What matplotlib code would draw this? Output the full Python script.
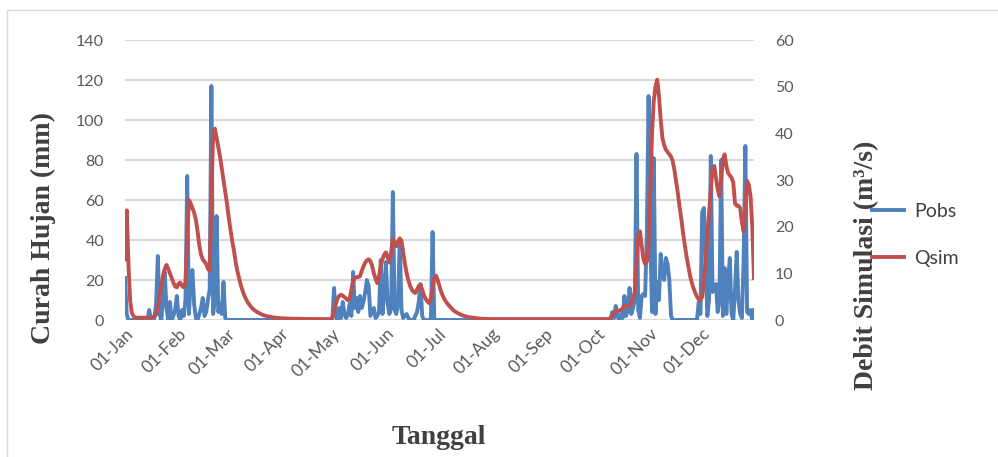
import numpy as np
import matplotlib.pyplot as plt
from matplotlib.patches import Rectangle

# month ticks (day of year)
month_start = [0, 31, 59, 90, 120, 151, 181, 212, 243, 273, 304, 334]
month_labels = ['01-Jan', '01-Feb', '01-Mar', '01-Apr', '01-May', '01-Jun',
                '01-Jul', '01-Aug', '01-Sep', '01-Oct', '01-Nov', '01-Dec']

# observed rainfall (mm), only the rainy days, every other day is 0
rain_day = [0, 1, 14, 17, 18, 19, 20, 22, 23, 24, 26, 28, 29, 30, 31, 33, 34, 35,
            36, 37, 38, 39, 40, 41, 43, 44, 45, 46, 47, 48, 49, 50, 51, 52, 53, 54,
            55, 56, 57, 58,
            120, 121, 122, 124, 125, 126, 127, 128, 129, 130, 131, 132, 133, 134,
            135, 136, 137, 138, 139, 140, 141, 142, 143, 144, 145, 146, 147, 148,
            149, 150, 151, 152, 153, 154, 155, 156, 157, 158, 159, 160, 161, 162,
            163, 164, 168, 169, 170, 171, 172, 178,
            282, 283, 284, 285, 287, 288, 289, 290, 291, 292, 293, 294, 295, 296,
            297, 298, 299, 300, 301, 302, 303, 304, 305, 306, 307, 308, 309, 310,
            311, 312, 313, 314, 315, 316,
            332, 333, 334, 335, 336, 337, 338, 339, 340, 341, 342, 343, 344, 345,
            346, 347, 348, 349, 350, 351, 353, 354, 355, 356, 357, 358, 359, 360,
            361, 362, 364]
rain_mm = [21, 3, 5, 1, 8, 32, 3, 10, 24, 6, 9, 2, 5, 12, 2, 5, 2, 10,
           72, 3, 20, 25, 8, 1, 3, 6, 11, 2, 4, 10, 15, 117, 3, 10, 52, 4,
           8, 3, 19, 1,
           1, 16, 2, 6, 1, 9, 3, 1, 3, 8, 2, 24, 6, 11,
           4, 12, 6, 9, 14, 20, 17, 2, 4, 6, 1, 2, 4, 30,
           3, 15, 29, 8, 3, 6, 64, 5, 3, 8, 40, 5, 1, 2,
           3, 1, 2, 4, 9, 18, 2, 44,
           4, 1, 7, 2, 3, 1, 12, 2, 5, 16, 3, 6, 10, 83,
           5, 1, 12, 13, 12, 44, 112, 40, 4, 81, 3, 19, 10, 33,
           23, 20, 31, 28, 20, 2,
           9, 3, 54, 56, 30, 2, 10, 82, 14, 16, 18, 4, 10, 80,
           2, 26, 3, 20, 31, 3, 15, 34, 10, 3, 1, 30, 87, 4,
           3, 5, 5]

# simulated discharge (m3/s), daily, month by month
q_jan = [13, 23.5, 12, 4, 1.5, 0.8, 0.5, 0.5, 0.5, 0.5, 0.5, 0.5, 0.5, 0.5, 0.5, 0.5,
         0.6, 0.8, 1.2, 2.5, 5, 7.5, 9.5, 11, 11.8, 11, 10, 9, 8, 7.2, 7]
q_feb = [7.8, 8, 7.3, 7, 8, 18, 25.7, 25, 24, 23, 21.5, 19, 16, 14, 13, 12.5,
         12, 11, 10.5, 26, 40, 41, 39, 37, 35, 32.5, 30, 27.5]
q_mar = [25, 22, 19.5, 17, 15, 12.5, 10.5, 9, 7.5, 6.3, 5.3, 4.5, 3.8, 3.3, 2.8, 2.4,
         2.1, 1.8, 1.6, 1.4, 1.2, 1.05, 0.95, 0.85, 0.75, 0.7, 0.6, 0.55, 0.5, 0.45, 0.4]
q_apr = [0.38, 0.36, 0.34, 0.32, 0.3, 0.29, 0.28, 0.27, 0.26, 0.25, 0.25, 0.24, 0.24,
         0.23, 0.23, 0.22, 0.22, 0.22, 0.21, 0.21, 0.21, 0.2, 0.2, 0.2, 0.2, 0.2,
         0.2, 0.2, 0.2, 0.2]
q_may = [0.4, 1.8, 3.4, 4.6, 5.2, 5.4, 5.2, 4.9, 4.6, 4.2, 4.4, 6.5, 8.2, 9.0, 9.2, 9.2,
         9.4, 10.5, 11.5, 12.3, 12.8, 13, 12.6, 11.6, 10, 8.8, 7.9, 9.5, 11.5, 13, 14]
q_jun = [14.5, 13.5, 12.3, 14.5, 17.4, 16.5, 15.8, 16.8, 17.5, 17, 14.5, 12, 10, 8.5,
         7.3, 6.5, 6, 5.8, 6.5, 7.3, 7.5, 6.5, 5.3, 4.5, 4, 3.6, 4.5, 7, 9, 9.5]
q_jul = [8.5, 7.2, 6, 5.1, 4.4, 3.8, 3.3, 2.9, 2.5, 2.1, 1.8, 1.6, 1.4, 1.2, 1.05, 0.9,
         0.8, 0.7, 0.6, 0.55, 0.5, 0.45, 0.4, 0.35, 0.3, 0.28, 0.25, 0.22, 0.2, 0.2, 0.2]
q_aug = [0.2, 0.2, 0.2, 0.2, 0.2, 0.2, 0.2, 0.2, 0.2, 0.2, 0.2, 0.2, 0.2, 0.2, 0.2, 0.2,
         0.2, 0.2, 0.2, 0.2, 0.2, 0.2, 0.2, 0.2, 0.2, 0.2, 0.2, 0.2, 0.2, 0.2, 0.2]
q_sep = [0.2, 0.2, 0.2, 0.2, 0.2, 0.2, 0.2, 0.2, 0.2, 0.2, 0.2, 0.2, 0.2, 0.2, 0.2,
         0.2, 0.2, 0.2, 0.2, 0.2, 0.2, 0.2, 0.2, 0.2, 0.2, 0.2, 0.2, 0.2, 0.2, 0.2]
q_oct = [0.2, 0.2, 0.2, 0.2, 0.2, 0.2, 0.2, 0.2, 0.5, 1, 1.5, 1.8, 2, 2, 2.2, 2.5,
         3, 3, 2.8, 3.2, 3.5, 4.5, 6, 12, 18, 19, 16, 13, 12, 12.5, 16]
q_nov = [28, 40, 47, 50, 51.5, 48, 43, 39, 37.5, 36.5, 36, 35.5, 35, 34, 32, 29.5,
         27, 24, 21.5, 18.5, 16, 13.5, 11.5, 9.5, 8, 6.8, 5.8, 5, 4.4, 4.2]
q_dec = [5, 8, 13, 18, 23, 28, 32.5, 33, 30.5, 28, 26.5, 30, 34.5, 35.5, 33, 31.5,
         31, 30.5, 29.5, 25, 24.5, 24.5, 24, 21, 19, 24, 29.8, 29, 26.5, 20, 9]
qsim = q_jan + q_feb + q_mar + q_apr + q_may + q_jun + q_jul + q_aug + q_sep + q_oct + q_nov + q_dec

days = np.arange(len(qsim))
pobs = np.zeros(len(qsim))
pobs[rain_day] = rain_mm

serif = 'Liberation Serif'
tick_col = '#595959'

fig = plt.figure(figsize=(9.98, 4.57), dpi=100)
ax = fig.add_axes([125 / 998, 1 - 320 / 457, 629 / 998, 280 / 457])

ax.plot(days, pobs, color='#4F81BD', lw=2.8, label='Pobs', solid_joinstyle='round')
ax.set_xlim(0, 364)
ax.set_ylim(0, 140)
ax.set_yticks(range(0, 141, 20))
ax.grid(axis='y', color='#d9d9d9', lw=1.5)
ax.set_axisbelow(True)

ax2 = ax.twinx()
ax2.plot(days, qsim, color='#C0504D', lw=2.8, label='Qsim', solid_joinstyle='round')
ax2.set_ylim(0, 60)
ax2.set_yticks(range(0, 61, 10))

for a in (ax, ax2):
    for s in a.spines.values():
        s.set_visible(False)
    a.tick_params(length=0, labelsize=11.5, labelcolor=tick_col, labelfontfamily='Lato')
ax.tick_params(axis='y', pad=15)
ax2.tick_params(axis='y', pad=15)

ax.set_xticks(month_start)
ax.set_xticklabels(month_labels, rotation=45, ha='right', rotation_mode='anchor', fontsize=12.5)
ax.tick_params(axis='x', pad=4)

fig.text(43 / 998, 1 - 228 / 457, 'Curah Hujan (mm)', rotation=90, ha='center', va='center',
         family=serif, fontweight='bold', fontsize=20, color='#404040')
fig.text(867 / 998, 1 - 265 / 457, 'Debit Simulasi (m³/s)', rotation=90, ha='center', va='center',
         family=serif, fontweight='bold', fontsize=20, color='#404040')
fig.text(439 / 998, 1 - 437 / 457, 'Tanggal', ha='center', va='center',
         family=serif, fontweight='bold', fontsize=20, color='#404040')

h1, l1 = ax.get_legend_handles_labels()
h2, l2 = ax2.get_legend_handles_labels()
fig.legend(h1 + h2, l1 + l2, loc='upper left', bbox_to_anchor=(872 / 998, 1 - 203 / 457),
           frameon=False, prop={'family': 'Lato', 'size': 14}, labelcolor='#404040',
           handlelength=1.65, handletextpad=0.5, labelspacing=1.55, borderpad=0, borderaxespad=0)

fig.patches.append(Rectangle((7 / 998, -0.05), 1.1, 1 - 10 / 457 + 0.05, transform=fig.transFigure,
                             fill=False, edgecolor='#d9d9d9', lw=1))

fig.savefig('out.png', dpi=100)
